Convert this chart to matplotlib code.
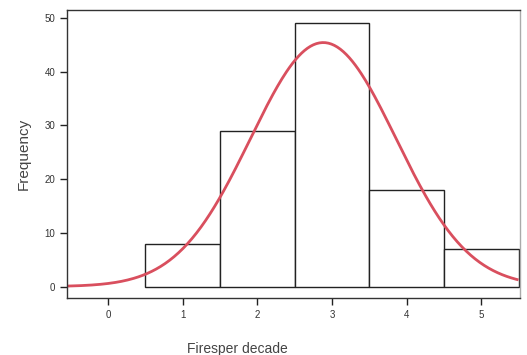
import numpy as np
import matplotlib.pyplot as plt

plt.rcParams['font.family'] = ['Liberation Sans Narrow', 'Liberation Sans', 'DejaVu Sans']

fires = [1, 2, 3, 4, 5]
counts = [8, 29, 49, 18, 7]
xticks = [0, 1, 2, 3, 4, 5]
yticks = [0, 10, 20, 30, 40, 50]

# normal curve fitted to the histogram
n = sum(counts)
mean = np.average(fires, weights=counts)
sd = np.sqrt(np.average((np.array(fires) - mean) ** 2, weights=counts))
xs = np.linspace(-0.52, 5.48, 300)
ys = n / (sd * np.sqrt(2 * np.pi)) * np.exp(-0.5 * ((xs - mean) / sd) ** 2)

fig = plt.figure(figsize=(5.27, 3.55), dpi=100)
ax = fig.add_axes([0.127, 0.161, 0.86, 0.811])

ax.bar(fires, counts, width=1.0, color='white', edgecolor='#222222', linewidth=1.0)
ax.plot(xs, ys, color='#d94f5e', linewidth=2.0)

ax.set_xlim(-0.55, 5.52)
ax.set_ylim(-2.1, 51.5)
ax.set_xticks(xticks)
ax.set_yticks(yticks)
ax.tick_params(axis='both', direction='out', length=5, width=1, labelsize=7,
               colors='#222222', labelcolor='#333333')
for s in ax.spines.values():
    s.set_color('#333333')
    s.set_linewidth(1.0)
ax.spines['right'].set_color('#aaaaaa')

ax.set_ylabel('Frequency', fontsize=11, color='#444444', labelpad=10)
ax.set_xlabel('Firesper decade', fontsize=10, color='#444444', labelpad=12)
ax.xaxis.set_label_coords(0.375, -0.155)

fig.savefig('out.png', dpi=100)
